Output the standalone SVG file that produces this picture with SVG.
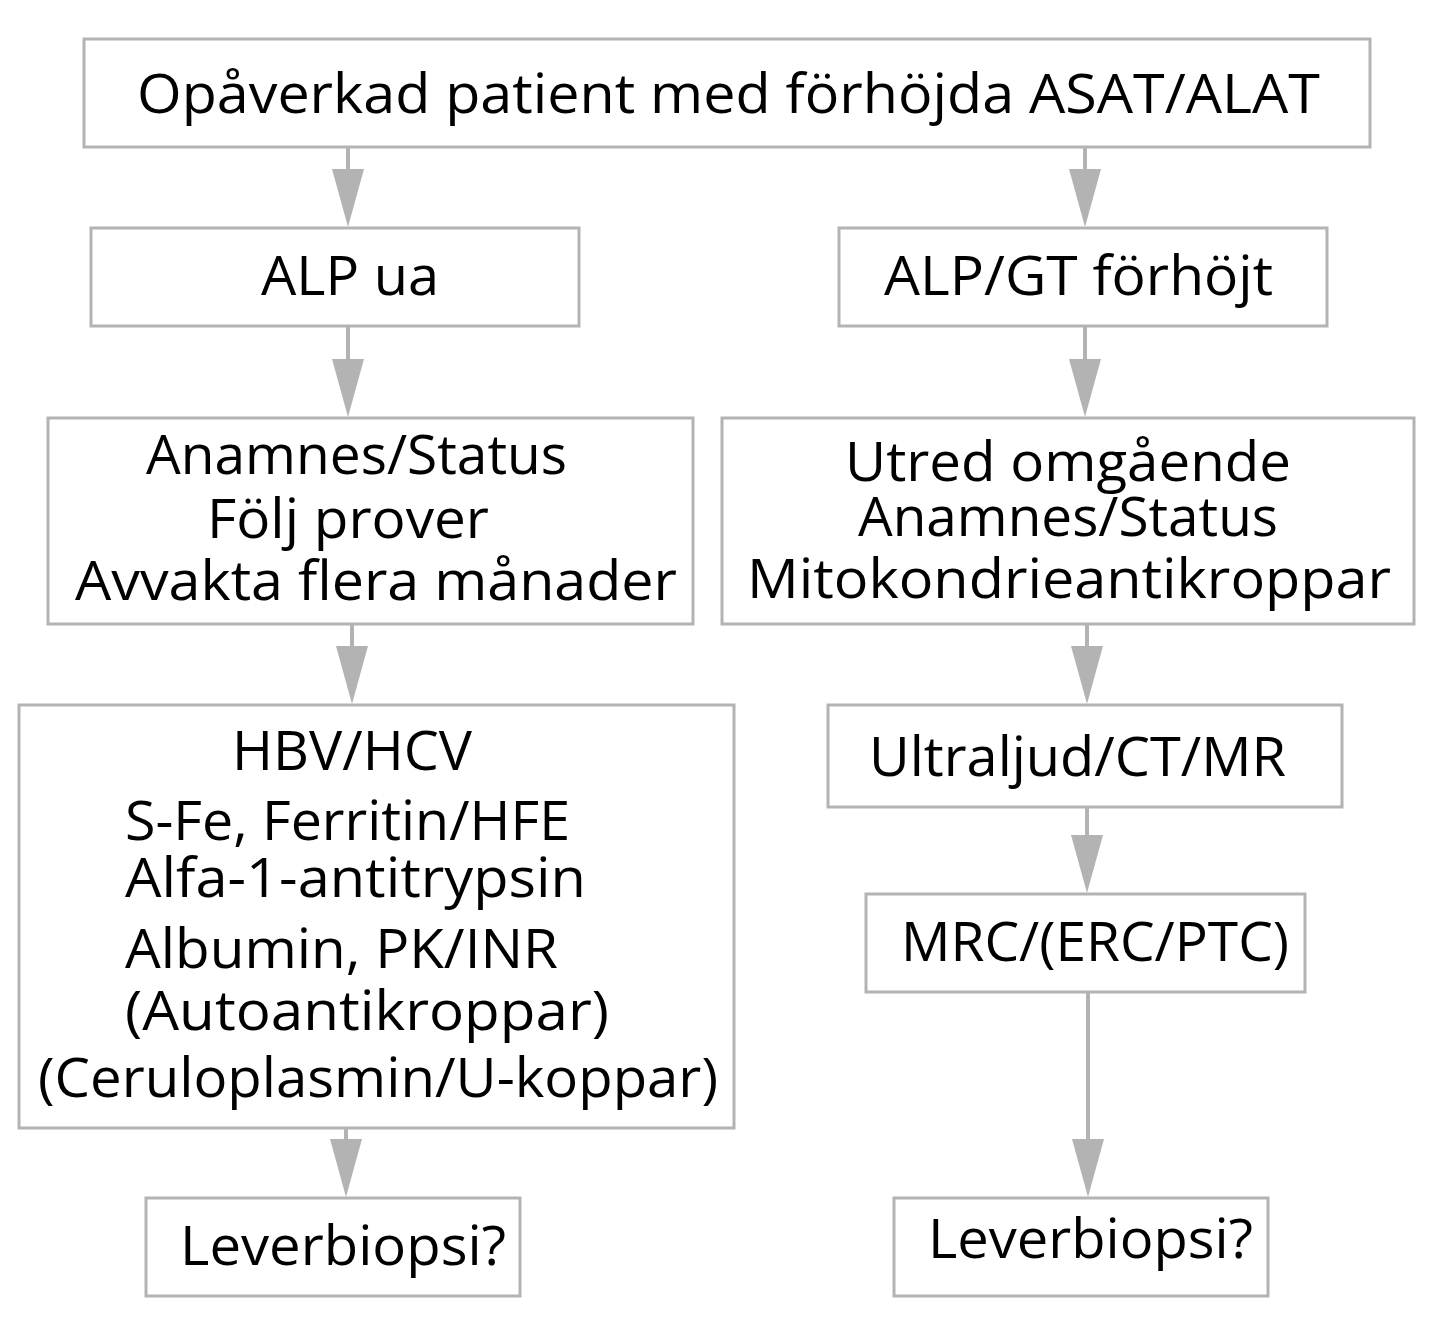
<svg xmlns="http://www.w3.org/2000/svg" width="1447" height="1336" viewBox="0 0 1447 1336">
<style>
.box{fill:#fff;stroke:#b3b3b3;stroke-width:3}
.t{font-family:"Open Sans","Noto Sans","Liberation Sans",sans-serif;font-size:54px;fill:#000}
.c{stroke:#b3b3b3;stroke-width:4;fill:none;marker-end:url(#ah)}
</style>
<defs>
<marker id="ah" markerUnits="userSpaceOnUse" markerWidth="32" markerHeight="58" viewBox="0 0 32 58" refX="16" refY="28" orient="0">
<path d="M0,0 L32,0 L16,58 Z" fill="#b3b3b3"/>
</marker>
</defs>
<rect width="1447" height="1336" fill="#fff"/>
<g id="connectors">
<path class="c" d="M348,147 V197"/>
<path class="c" d="M348,326 V387"/>
<path class="c" d="M352,624 V674"/>
<path class="c" d="M346,1128 V1167"/>
<path class="c" d="M1085,147 V197"/>
<path class="c" d="M1085,326 V387"/>
<path class="c" d="M1087,624 V674"/>
<path class="c" d="M1087,807 V863"/>
<path class="c" d="M1088,992 V1167"/>
</g>
<g id="n-top"><rect class="box" x="84" y="39" width="1286" height="108"/>
<text class="t" x="137" y="113" textLength="1183" lengthAdjust="spacingAndGlyphs">Opåverkad patient med förhöjda ASAT/ALAT</text></g>
<g id="n-alpua"><rect class="box" x="91" y="228" width="488" height="98"/>
<text class="t" x="261" y="295" textLength="178" lengthAdjust="spacingAndGlyphs">ALP ua</text></g>
<g id="n-alpgt"><rect class="box" x="839" y="228" width="488" height="98"/>
<text class="t" x="884" y="295" textLength="389" lengthAdjust="spacingAndGlyphs">ALP/GT förhöjt</text></g>
<g id="n-anamnes-l"><rect class="box" x="48" y="418" width="645" height="206"/>
<text class="t" x="146" y="474" textLength="421" lengthAdjust="spacingAndGlyphs">Anamnes/Status</text>
<text class="t" x="207" y="538" textLength="282" lengthAdjust="spacingAndGlyphs">Följ prover</text>
<text class="t" x="75" y="600" textLength="602" lengthAdjust="spacingAndGlyphs">Avvakta flera månader</text></g>
<g id="n-utred"><rect class="box" x="722" y="418" width="692" height="206"/>
<text class="t" x="845" y="481" textLength="446" lengthAdjust="spacingAndGlyphs">Utred omgående</text>
<text class="t" x="858" y="536" textLength="420" lengthAdjust="spacingAndGlyphs">Anamnes/Status</text>
<text class="t" x="747" y="598" textLength="644" lengthAdjust="spacingAndGlyphs">Mitokondrieantikroppar</text></g>
<g id="n-hbv"><rect class="box" x="19" y="705" width="715" height="423"/>
<text class="t" x="232" y="770" textLength="240" lengthAdjust="spacingAndGlyphs">HBV/HCV</text>
<text class="t" x="125" y="840" textLength="445" lengthAdjust="spacingAndGlyphs">S-Fe, Ferritin/HFE</text>
<text class="t" x="125" y="897" textLength="461" lengthAdjust="spacingAndGlyphs">Alfa-1-antitrypsin</text>
<text class="t" x="125" y="968" textLength="433" lengthAdjust="spacingAndGlyphs">Albumin, PK/INR</text>
<text class="t" x="125" y="1030" textLength="484" lengthAdjust="spacingAndGlyphs">(Autoantikroppar)</text>
<text class="t" x="38" y="1097" textLength="680" lengthAdjust="spacingAndGlyphs">(Ceruloplasmin/U-koppar)</text></g>
<g id="n-ultraljud"><rect class="box" x="828" y="705" width="514" height="102"/>
<text class="t" x="869" y="776" textLength="417" lengthAdjust="spacingAndGlyphs">Ultraljud/CT/MR</text></g>
<g id="n-mrc"><rect class="box" x="866" y="894" width="439" height="98"/>
<text class="t" x="901" y="961" textLength="388" lengthAdjust="spacingAndGlyphs">MRC/(ERC/PTC)</text></g>
<g id="n-lever-l"><rect class="box" x="146" y="1198" width="374" height="98"/>
<text class="t" x="180" y="1265" textLength="326" lengthAdjust="spacingAndGlyphs">Leverbiopsi?</text></g>
<g id="n-lever-r"><rect class="box" x="894" y="1198" width="374" height="98"/>
<text class="t" x="928" y="1258" textLength="325" lengthAdjust="spacingAndGlyphs">Leverbiopsi?</text></g>
</svg>
